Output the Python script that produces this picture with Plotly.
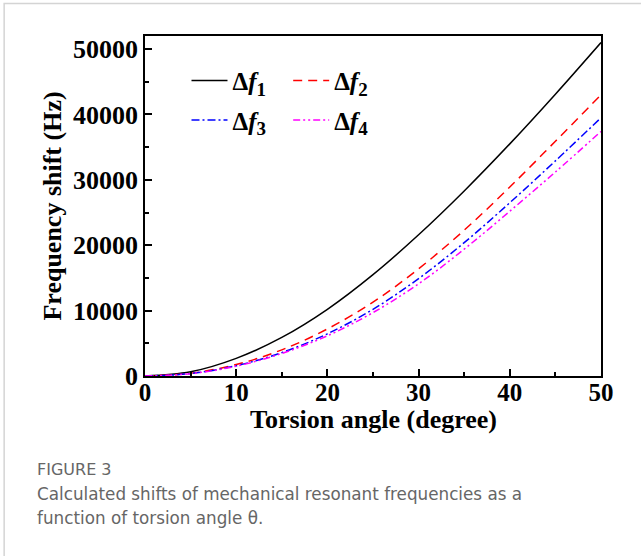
import plotly.graph_objects as go

angle = [0, 5, 10, 15, 20, 25, 30, 35, 40, 45, 50]
df1 = [0, 650, 2700, 5900, 10200, 15500, 21600, 28300, 35500, 43100, 51000]
df2 = [0, 420, 1750, 4000, 7200, 11300, 16400, 22300, 28900, 35900, 43000]
df3 = [0, 370, 1570, 3580, 6450, 10200, 14900, 20400, 26500, 32900, 39500]
df4 = [0, 350, 1500, 3450, 6150, 9700, 14100, 19400, 25200, 31200, 37400]

subs = ["1", "2", "3", "4"]
series = [df1, df2, df3, df4]
colors = ["#000000", "#ff0000", "#0000ff", "#ff00ff"]
dashes = ["solid", "9px,6px", "8px,3px,2px,3px", "7px,3px,2px,3px,2px,3px"]
legends = ["legend", "legend2", "legend", "legend2"]

xtitle = "Torsion angle (degree)"
ytitle = "Frequency shift (Hz)"
caption_head = "FIGURE 3"
caption_lines = ["Calculated shifts of mechanical resonant frequencies as a",
                 "function of torsion angle θ."]

serif = "Liberation Serif, Times New Roman, serif"

fig = go.Figure()
for i in range(4):
    label = "<b>Δ<i>f</i><sub><span style='font-size:19px'>%s</span></sub></b>" % subs[i]
    fig.add_trace(go.Scatter(
        x=angle, y=series[i], mode="lines", name=label,
        line=dict(color=colors[i], width=1.5, dash=dashes[i], shape="spline", smoothing=1.0),
        legend=legends[i], legendgroup="g%d" % i,
    ))

legend_common = dict(
    bgcolor="rgba(0,0,0,0)", borderwidth=0,
    font=dict(family=serif, size=25, color="#000"),
    traceorder="grouped", tracegroupgap=4,
    xanchor="left", yanchor="top", itemwidth=36,
)

fig.update_layout(
    width=641, height=556,
    margin=dict(l=144.5, r=40, t=36, b=180),
    plot_bgcolor="white", paper_bgcolor="white",
    showlegend=True,
    legend=dict(x=0.091, y=0.936, **legend_common),
    legend2=dict(x=0.314, y=0.936, **legend_common),
    xaxis=dict(
        range=[0, 50], tickvals=[0, 10, 20, 30, 40, 50],
        ticks="inside", ticklen=7, tickwidth=1.5, tickcolor="#000",
        minor=dict(dtick=5, ticks="inside", ticklen=4, tickwidth=1.5, tickcolor="#000"),
        showline=True, linecolor="#000", linewidth=1.5, mirror=True,
        showgrid=False, zeroline=False,
        tickfont=dict(family=serif, size=25, color="#000", weight="bold"), ticklabelstandoff=-7,
    ),
    yaxis=dict(
        range=[0, 52000], tickvals=[0, 10000, 20000, 30000, 40000, 50000],
        ticktext=["0", "10000", "20000", "30000", "40000", "50000"],
        ticks="inside", ticklen=7, tickwidth=1.5, tickcolor="#000",
        minor=dict(dtick=5000, ticks="inside", ticklen=4, tickwidth=1.5, tickcolor="#000"),
        showline=True, linecolor="#000", linewidth=1.5, mirror=True,
        showgrid=False, zeroline=False,
        tickfont=dict(family=serif, size=26, color="#000", weight="bold"),
        title=dict(text="<b>" + ytitle + "</b>", font=dict(family=serif, size=26, color="#000"), standoff=4),
    ),
)

# helpers: pixel position -> paper coordinates
pw, ph = 641 - 144.5 - 40, 556 - 36 - 180
def px(x):
    return (x - 144.5) / pw
def py(y):
    return (556 - 180 - y) / ph

fig.add_annotation(xref="paper", yref="paper", x=0.5, y=py(419), xanchor="center", yanchor="middle",
                   text="<b>" + xtitle + "</b>", showarrow=False,
                   font=dict(family=serif, size=26, color="#000"))

# card border (light gray)
fig.add_shape(type="rect", xref="paper", yref="paper",
              x0=px(3.5), x1=px(660), y0=py(3.5), y1=py(600),
              line=dict(color="#d4d4d4", width=1.5), fillcolor="rgba(0,0,0,0)", layer="below")

cap_font = "DejaVu Sans, Verdana, sans-serif"
cap_color = "#666666"
fig.add_annotation(xref="paper", yref="paper", x=px(34), y=py(470), xanchor="left", yanchor="middle",
                   text=caption_head, showarrow=False, font=dict(family=cap_font, size=16, color=cap_color))
for k, line in enumerate(caption_lines):
    fig.add_annotation(xref="paper", yref="paper", x=px(34), y=py(493.5 + 24 * k), xanchor="left", yanchor="middle",
                       text=line, showarrow=False, font=dict(family=cap_font, size=16.8, color=cap_color))

fig.write_html("out.html", config={"displayModeBar": False},
               post_script="document.body.style.margin='0px';")
